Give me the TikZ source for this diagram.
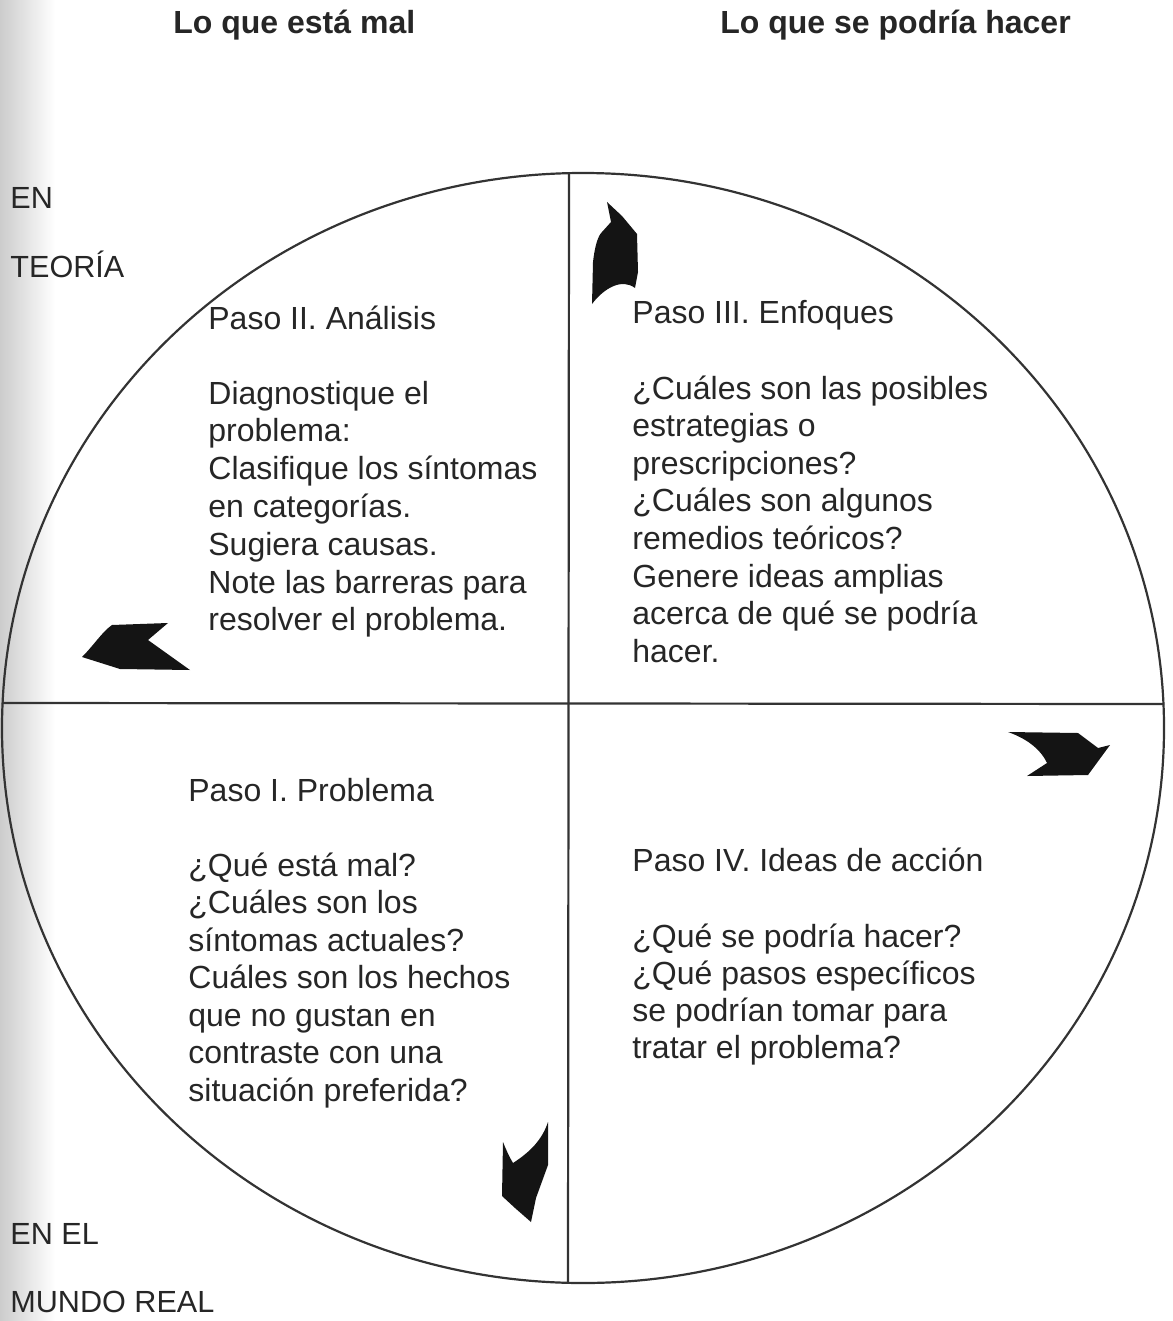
\documentclass[tikz,border=0pt]{standalone}
\usepackage{fontspec}
\setmainfont{Liberation Sans}
\begin{document}
\begin{tikzpicture}[x=0.5pt,y=-0.5pt,
  txt/.style={anchor=base west, inner sep=0pt, font=\fontsize{16}{18.8}\selectfont, text=black!85},
  head/.style={txt, font=\fontsize{16}{18.8}\selectfont\bfseries},
  side/.style={txt, font=\fontsize{15.3}{18}\selectfont},
  ring/.style={draw=black!80, line width=1.1pt},
  swoosh/.style={fill=black!92, draw=none}]
\useasboundingbox (0,0) rectangle (1172,1321);
\shade[left color=black!20, right color=white] (0,0) rectangle (55,1321);
% circle and axes
\coordinate (c) at (583,728);
\draw[ring] (c) ellipse [x radius=581, y radius=555];
\coordinate (hl) at (2,703);
\coordinate (hr) at (1164,704);
\coordinate (vt) at (569,173);
\coordinate (vb) at (568,1283);
\draw[ring] (hl) -- (hr);
\draw[ring] (vt) -- (vb);
% headings
\node[head] (h1) at (173,34) {Lo que está mal};
\node[head] (h2) at (720,34) {Lo que se podría hacer};
\node[side] (s1) at (10,209) {EN};
\node[side] (s2) at (10,278) {TEORÍA};
\node[side] (s3) at (10,1244) {EN EL};
\node[side] (s4) at (10,1312) {MUNDO REAL};
% Paso II
\node[txt] (p2) at (208,329) {Paso II. Análisis};
\foreach \t [count=\i] in {Diagnostique el, problema:, Clasifique los síntomas, en categorías., Sugiera causas., Note las barreras para, resolver el problema.}
  \node[txt] (p2l\i) at (208,{404+(\i-1)*37.8}) {\t};
% Paso III
\node[txt] (p3) at (632,323) {Paso III. Enfoques};
\foreach \t [count=\i] in {¿Cuáles son las posibles, estrategias o, prescripciones?, ¿Cuáles son algunos, remedios teóricos?, Genere ideas amplias, acerca de qué se podría, hacer.}
  \node[txt] (p3l\i) at (632,{399+(\i-1)*37.6}) {\t};
% Paso I
\node[txt] (p1) at (188,801) {Paso I. Problema};
\foreach \t [count=\i] in {¿Qué está mal?, ¿Cuáles son los, síntomas actuales?, Cuáles son los hechos, que no gustan en, contraste con una, situación preferida?}
  \node[txt] (p1l\i) at (188,{876+(\i-1)*37.5}) {\t};
% Paso IV
\node[txt] (p4) at (632,871) {Paso IV. Ideas de acción};
\foreach \t [count=\i] in {¿Qué se podría hacer?, ¿Qué pasos específicos, se podrían tomar para, tratar el problema?}
  \node[txt] (p4l\i) at (632,{947+(\i-1)*37.3}) {\t};
% arrowheads
\fill[swoosh] (607,202) -- (622,216) -- (637,234) -- (638,272) -- (635,288)
  .. controls (622,278) and (604,288) .. (592,304)
  -- (593,262) .. controls (595,245) and (598,236) .. (602,232) -- (611,222) -- cycle;
\fill[swoosh] (82,657) .. controls (94,645) and (102,632) .. (112,625)
  -- (168,623) -- (148,640) -- (190,670) -- (120,669) -- cycle;
\fill[swoosh] (1008,732) -- (1078,733) -- (1098,748) -- (1110,745)
  -- (1088,775) -- (1027,776) -- (1047,763)
  .. controls (1040,748) and (1025,738) .. (1008,732) -- cycle;
\fill[swoosh] (503,1142) .. controls (507,1152) and (510,1158) .. (513,1163)
  .. controls (530,1152) and (542,1140) .. (548,1122)
  -- (548,1165) -- (536,1198) -- (531,1222) -- (515,1208) -- (502,1196) -- cycle;
\end{tikzpicture}
\end{document}
